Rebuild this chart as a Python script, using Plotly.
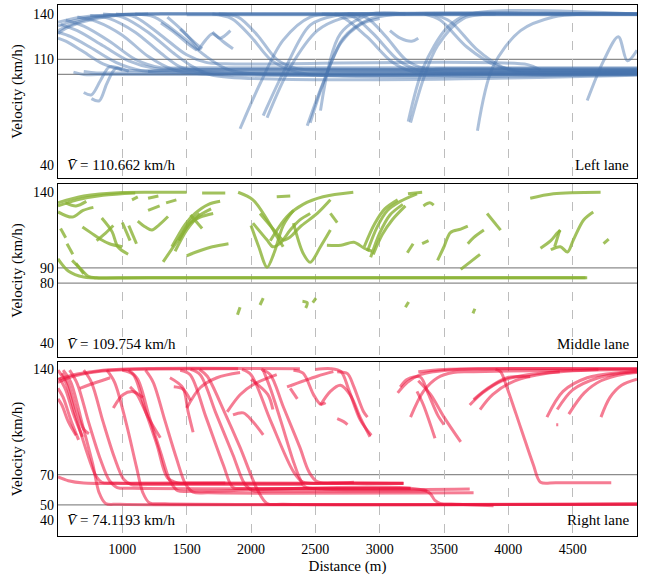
import plotly.graph_objects as go

# ---------------- data: distance (m) / velocity (km/h) keypoints ----------------
# Left lane
left_cruise = [
    ([500, 620, 800, 1050, 1400, 5000], [132, 135.5, 138.5, 140, 140, 140]),
    ([500, 600, 750, 1000, 1300, 5000], [129, 133, 137, 139.5, 140.3, 140.3]),
    ([500, 650, 900, 1200, 5000], [134.5, 137.5, 139.5, 140, 139.7]),
    ([500, 560, 700, 950, 1200], [127, 130.5, 135, 139, 140]),
    ([1500, 2500, 3500, 5000], [139.6, 139.6, 139.6, 139.6]),
    ([620, 700, 900, 5000], [101.5, 100, 100, 100]),
    ([700, 800, 1000, 5000], [102, 101, 101, 101]),
    ([1200, 1400, 5000], [102, 103, 103]),
]
left_decel = [
    ([500, 600, 750, 950, 1150, 1350, 5000], [128, 125, 118, 108, 102.5, 101.5, 101.5]),
    ([500, 560, 680, 850, 1000, 1150, 5000], [124, 122, 116, 107, 103, 102.5, 102.5]),
    ([520, 650, 850, 1050, 1250, 1450, 5000], [133, 129, 119, 109, 104, 103.5, 103.5]),
    ([560, 700, 900, 1100, 1300, 1500, 5000], [136, 132, 122, 110, 104.5, 104.5, 104.5]),
    ([650, 800, 1000, 1200, 1400, 1600, 5000], [138, 135, 126, 112, 103, 100.5, 100.5]),
    ([750, 900, 1100, 1300, 1450, 1600, 5000], [139, 137, 128, 114, 105, 102, 102]),
    ([850, 1000, 1200, 1400, 1550, 1700, 5000], [140, 138, 128, 114, 105, 99.5, 99.5]),
    ([950, 1100, 1300, 1500, 1650, 1800, 4150, 4250], [140, 138, 126, 113, 108, 107, 106.5, 103]),
    ([1100, 1250, 1450, 1650, 1800, 1950, 5000], [140, 138, 126, 112, 104, 101, 101]),
    ([1700, 1850, 2000, 2150, 2300, 2450, 5000], [140, 137, 125, 110, 103, 100, 100]),
    ([1750, 1900, 2050, 2200, 2350, 2500, 5000], [140, 138, 126, 110, 104, 103, 103]),
    ([2550, 2700, 2900, 3100, 3250, 3400, 5000], [140, 138.5, 125, 108, 102, 101, 101]),
    ([2650, 2800, 2950, 3150, 3300, 3450, 5000], [140, 138, 127, 109, 103, 102, 102]),
    ([2750, 2900, 3050, 3200, 3350, 3500, 5000], [140, 137.5, 125, 110, 104, 104, 104]),
    ([3350, 3470, 3680, 3900, 4050, 4200, 5000], [140, 136, 118, 106, 103, 102.5, 102.5]),
    ([3420, 3550, 3750, 3950, 4100, 4250, 5000], [140, 135, 117, 105, 101, 100, 100]),
]
left_accel = [
    ([1915, 2071, 2250, 2460, 2700, 5000], [64, 94, 122.7, 138, 140, 140]),
    ([2095, 2250, 2460, 2670, 2900, 5000], [72.7, 101, 132.7, 139.3, 140, 140]),
    ([2125, 2305, 2515, 2700, 2850], [71.3, 104.7, 129, 137, 138.5]),
    ([2437, 2562, 2717, 2905, 3100, 5000], [66, 94.7, 124, 136, 139.5, 140]),
    ([2460, 2570, 2700, 2850, 3000], [68, 96, 121, 133, 137]),
    ([2540, 2695, 2930, 3200], [76, 127, 140, 140]),
    ([3222, 3340, 3525, 3700, 5000], [68.7, 104.7, 131, 140, 140]),
    ([3240, 3340, 3450, 3650, 3900], [68, 97, 119, 137, 140]),
    ([3760, 3880, 4095, 4350, 4600, 5000], [62.7, 105, 129, 138, 140, 140]),
    ([4613, 4740, 4855, 4925, 5000], [82.7, 109, 125, 109, 116]),
    ([700, 760, 830, 900, 1000], [88, 86.5, 96, 105, 103]),
    ([760, 820, 880, 950, 1050], [84, 82.5, 94, 104, 102]),
]
left_misc = [
    ([1590, 1640, 1700, 1760, 1840], [116, 122, 127, 124, 129]),
    ([1450, 1550, 1620], [130, 122, 117]),
    ([3080, 3160, 3250, 3300], [129, 124, 122, 124]),
    ([1700, 1780, 1860], [128, 122, 117]),
    ([1300, 1400, 1500, 1580], [134, 128, 121, 116]),
    ([1350, 1480, 1600], [138, 128, 116]),
]

# Middle lane
middle_main = [
    ([500, 700, 1000, 1300, 1500], [133, 137.5, 139.8, 140, 140]),
    ([500, 650, 850, 1100], [131, 135, 138, 139.5]),
    ([500, 580, 700, 1000, 4600], [96, 88, 84, 83.5, 83.5]),
    ([610, 680, 735, 800, 1200, 4613], [95, 89, 84.5, 83.5, 83.5, 83.5]),
]
middle_pieces = [
    ([500, 610, 695, 775], [127, 123.6, 128, 130]),
    ([560, 640, 720], [133, 131, 134]),
    ([520, 560], [116, 110]),
    ([570, 615], [106, 99]),
    ([640, 700], [93, 86]),
    ([690, 760, 830, 900, 1000], [117, 113, 109, 106, 104]),
    ([840, 920, 965, 1045], [123, 114, 104, 99]),
    ([800, 870, 930], [108, 113, 118]),
    ([1000, 1060], [120, 108]),
    ([1050, 1110], [118, 106]),
    ([1120, 1180, 1230, 1280, 1355], [121, 117, 115, 118, 124]),
    ([1075, 1120], [135, 137]),
    ([1200, 1280], [136, 137.5]),
    ([1200, 1290], [128, 131]),
    ([1340, 1420], [133, 135]),
    ([1317, 1450, 1527, 1605, 1706], [94, 110.5, 119.6, 123.6, 126]),
    ([1385, 1490, 1565, 1670, 1760], [104, 119, 126, 132, 134]),
    ([1410, 1500, 1590, 1690], [101, 115, 124, 129]),
    ([1440, 1520, 1600], [108, 120, 126]),
    ([1530, 1580, 1620], [125, 120, 116]),
    ([1500, 1590, 1700, 1825], [98, 101, 104, 106]),
    ([1620, 1800], [139.5, 139.5]),
    ([1900, 2015, 2125, 2200, 2250], [140, 135, 122, 111, 104]),
    ([2015, 2125, 2170, 2227, 2305, 2380, 2460], [119.6, 108.4, 104, 106.4, 115, 121.7, 126]),
    ([2070, 2200, 2250, 2305, 2380, 2515, 2617], [126, 113, 108.4, 110.5, 117, 126, 135]),
    ([2000, 2060, 2125, 2180, 2250, 2330], [118, 104, 90.5, 100, 118, 128]),
    ([2330, 2405, 2460, 2540, 2617], [119.6, 99.7, 93.7, 104, 115]),
    ([2150, 2280, 2405, 2560, 2795], [108, 124, 132, 137, 140]),
    ([2200, 2305], [137, 137.5]),
    ([2617, 2670], [126, 120]),
    ([2590, 2700, 2800, 2880, 2940], [105, 105, 107, 103, 101]),
    ([2905, 2980, 3060, 3160, 3290], [101, 117, 128, 134, 139]),
    ([2930, 3000, 3080, 3180], [97, 113, 125, 132]),
    ([2950, 3020, 3100, 3200], [99, 112, 122, 131]),
    ([2880, 2960, 3040, 3140], [104, 119, 129, 135]),
    ([3220, 3330], [139, 140]),
    ([3340, 3390, 3420], [131, 133, 131.5]),
    ([3215, 3260], [100, 106]),
    ([3330, 3380], [106, 108]),
    ([3450, 3500, 3550, 3630, 3685], [95, 104, 113.4, 115.6, 117.6]),
    ([3630, 3705, 3780], [89, 94, 99]),
    ([3685, 3730, 3810], [106, 110, 115]),
    ([3835, 3940], [126, 115]),
    ([4170, 4350, 4717], [136, 139, 140]),
    ([4250, 4330, 4380, 4405], [103, 108, 113, 115]),
    ([4330, 4405, 4460, 4505, 4585, 4660], [102, 104, 100.5, 108.4, 121.7, 127]),
    ([4360, 4400], [104, 115]),
    ([4740, 4780], [106, 109]),
    ([1895, 1915], [59, 64]),
    ([2070, 2095], [65.5, 70]),
    ([2400, 2437, 2425], [68, 67, 63.5]),
    ([2480, 2505], [67, 70]),
    ([3200, 3225], [64, 67.5]),
    ([3725, 3740], [60, 63]),
]

# Right lane
right_top = [
    ([500, 650, 850, 1100, 2380], [133, 136.5, 139, 140, 140]),
    ([500, 600, 800, 1050, 1900], [131, 134.5, 138, 139.5, 140]),
    ([3300, 3500, 3800, 4200, 5000], [138, 139.5, 140, 140, 140]),
    ([500, 580, 700, 1500, 3185], [68.5, 66, 64.5, 64.5, 64.2]),
]
right_jam = [
    ([500, 560, 640, 720, 790, 840, 950, 1800], [139, 131, 108, 86, 70, 65, 64.5, 64.5]),
    ([540, 600, 690, 770, 820, 870, 980, 5000], [139, 131, 103, 77, 58, 51, 50.5, 50.5]),
    ([590, 650, 740, 830, 900, 960, 1080, 3240], [139, 130, 104, 80, 66, 61.5, 61, 61]),
    ([700, 760, 850, 940, 1010, 1070, 1200, 2400], [139, 131, 105, 81, 67, 63.5, 63.5, 63.5]),
    ([880, 940, 1030, 1110, 1160, 1210, 1330, 5000], [139, 131, 104, 75, 58, 51.5, 50.8, 50.8]),
    ([1000, 1085, 1180, 1270, 1350, 1430, 1550, 3185], [139, 136, 112, 89.6, 68, 64.6, 64.3, 64.3]),
    ([1050, 1120, 1210, 1300, 1370, 1430, 1550, 3370, 3430, 3470, 3600, 3885],
     [139, 133, 108, 84, 66, 59.5, 59, 59, 53, 51, 50.5, 49.5]),
    ([1180, 1240, 1330, 1420, 1490, 1550, 1670, 3730], [139, 131, 106, 81, 64, 58.5, 58, 58]),
    ([1450, 1527, 1650, 1785, 1860, 1970, 2100, 3240], [139, 136, 108, 76.4, 61.6, 61, 60.8, 60.8]),
    ([1530, 1605, 1730, 1860, 1950, 2015, 2150, 3370], [139.5, 136, 110, 83, 64, 59.5, 59.2, 59.2]),
    ([1600, 1660, 1790, 1915, 2050, 2125, 2250, 5000], [139.5, 135, 112, 88, 60, 51, 50.5, 50.5]),
    ([1930, 2000, 2150, 2330, 2405, 2640, 3185], [139.5, 136, 106, 72, 65, 64.6, 64.3]),
    ([2080, 2150, 2250, 2380, 2450, 2515, 2800], [139.5, 136, 115, 88, 72, 65.5, 65]),
    ([2095, 2150, 2230, 2330, 2380, 2420, 2550, 3700], [139, 127, 106, 78.6, 67.4, 62, 60.5, 60.5]),
    ([3900, 3940, 3990, 4100, 4195, 4250, 4370, 4800], [139.5, 138, 127.4, 100, 76.4, 65, 64.7, 64.7]),
]
right_short = [
    ([500, 540, 600, 660], [127, 121, 106, 93]),
    ([510, 560, 620, 690], [134, 126, 110, 95]),
    ([500, 530, 580, 640], [120, 116, 105, 96]),
    ([530, 580, 640, 700, 740], [137, 130, 113, 100, 97]),
    ([670, 800, 905], [127, 131, 134]),
    ([930, 1005, 1085, 1160], [114, 122.8, 124.8, 120.8]),
    ([1060, 1115, 1200, 1295], [128, 122.8, 108, 94.4]),
    ([1370, 1470, 1510, 1550], [134, 127.4, 112, 98]),
    ([1400, 1470, 1530], [128, 126.5, 119]),
    ([1500, 1605, 1735, 1915], [114, 127.4, 134, 137.4]),
    ([1815, 1915, 2015, 2200], [111.5, 122.8, 129.4, 136]),
    ([1860, 1940, 2015, 2095], [109.5, 110.8, 105, 96.3]),
    ([2000, 2130, 2170], [133, 123, 113]),
    ([2280, 2515, 2640], [128, 135, 138]),
    ([2330, 2405, 2485, 2540, 2580], [139, 137, 123, 116.5, 117.5]),
    ([2305, 2360], [127, 120]),
    ([2670, 2750, 2795, 2875, 2905], [138, 136.7, 129, 111.5, 108]),
    ([2540, 2617, 2695, 2772, 2850, 2925], [116, 125, 129, 122.5, 107.5, 95]),
    ([2670, 2720, 2750], [107, 105, 103]),
    ([2500, 2620, 2700, 2760, 2850, 2935], [139.5, 140, 138, 126, 106, 96]),
    ([3140, 3215, 3315, 3420, 3600, 5000], [124, 131, 136, 138, 139.5, 140]),
    ([3160, 3215, 3315, 3380, 3450, 3500], [128, 133, 134.5, 123, 109.5, 103]),
    ([3240, 3340, 3450, 3570, 3705, 5000], [108, 125, 134, 137.4, 138, 139.5]),
    ([3290, 3340, 3430], [125, 116, 94]),
    ([3300, 3395, 3500, 3630], [132, 123, 108, 91.6]),
    ([3730, 3840, 3990, 4170], [119.5, 127, 134, 134.7]),
    ([3700, 3800, 3950, 4150, 4400], [116, 124, 132, 136, 138]),
    ([3780, 3880, 4050, 4300, 4700], [113, 123, 132, 137, 139.5]),
    ([4300, 4425, 4613, 4870, 5000], [108, 125, 134, 137.4, 138]),
    ([4380, 4500, 4700, 5000], [113, 126, 134, 138.5]),
    ([4470, 4590, 4720, 4900, 5000], [110, 124, 132, 136.5, 137.5]),
    ([4720, 4790, 4880, 5000], [108, 121, 129, 133]),
    ([4372, 4388], [103, 103]),
]

lane_names = ["Left lane", "Middle lane", "Right lane"]
mean_speeds = ["110.662", "109.754", "74.1193"]
ref_lines = [[110, 100], [90, 80], [70, 50]]
y_ticks = [[40, 110, 140], [40, 80, 90, 140], [40, 50, 70, 140]]
x_ticks = [1000, 1500, 2000, 2500, 3000, 3500, 4000, 4500]

# ---------------- figure ----------------
FONT = "'Liberation Serif', 'Times New Roman', 'DejaVu Serif', serif"
colors = ["rgba(72,115,172,0.45)", "rgba(138,178,52,0.8)", "rgba(236,16,58,0.55)"]
groups = [left_cruise + left_decel + left_accel + left_misc,
          middle_main + middle_pieces,
          right_top + right_jam + right_short]

fig = go.Figure()
for i, tracks in enumerate(groups):
    for d, v in tracks:
        fig.add_trace(go.Scatter(
            x=d, y=v, mode="lines", xaxis="x%d" % (i + 1) if i else "x",
            yaxis="y%d" % (i + 1) if i else "y",
            line=dict(color=colors[i], width=3, shape="spline", smoothing=0.9),
            showlegend=False, hoverinfo="skip"))

domains = [[0.674, 1.0], [0.337, 0.663], [0.0, 0.328]]
yranges = [[31.3, 146], [31.1, 145.5], [29.5, 144.5]]
frame = dict(showline=True, mirror=True, linecolor="black", linewidth=1.2,
             zeroline=False, ticks="", automargin=False)
layout = dict(width=646, height=576, plot_bgcolor="white", paper_bgcolor="white",
              margin=dict(l=58, r=9, t=5, b=40),
              font=dict(family=FONT, size=14, color="black"))
for i in range(3):
    xs = "xaxis" if i == 0 else "xaxis%d" % (i + 1)
    ys = "yaxis" if i == 0 else "yaxis%d" % (i + 1)
    yid = "y" if i == 0 else "y%d" % (i + 1)
    xid = "x" if i == 0 else "x%d" % (i + 1)
    layout[xs] = dict(domain=[0, 1], anchor=yid, range=[500, 5000], tickvals=x_ticks,
                      showticklabels=(i == 2), showgrid=True, gridcolor="#bdbdbd",
                      griddash="dash", gridwidth=1, tickfont=dict(size=14), **frame)
    if i:
        layout[xs]["matches"] = "x"
    layout[ys] = dict(domain=domains[i], anchor=xid, range=yranges[i], tickvals=y_ticks[i],
                      showgrid=False, tickfont=dict(size=14),
                      title=dict(text="Velocity (km/h)", font=dict(size=15), standoff=6),
                      **frame)
layout["xaxis3"]["title"] = dict(text="Distance (m)", font=dict(size=15), standoff=4)
fig.update_layout(**layout)

ann_y = [0.075, 0.077, 0.092]
for i in range(3):
    xid = "x" if i == 0 else "x%d" % (i + 1)
    yid = "y" if i == 0 else "y%d" % (i + 1)
    for val in ref_lines[i]:
        fig.add_shape(type="line", xref=xid + " domain", yref=yid, x0=0, x1=1, y0=val, y1=val,
                      line=dict(color="#8c8c8c", width=1.2), layer="below")
    fig.add_annotation(xref=xid + " domain", yref=yid + " domain", x=0.012, y=ann_y[i],
                       xanchor="left", yanchor="middle", showarrow=False,
                       text="<i>V\u0304</i> = %s km/h" % mean_speeds[i], font=dict(size=15))
    fig.add_annotation(xref=xid + " domain", yref=yid + " domain", x=0.99, y=ann_y[i],
                       xanchor="right", yanchor="middle", showarrow=False,
                       text=lane_names[i], font=dict(size=15))

fig.write_html("out.html", config={"displayModeBar": False},
               post_script="document.body.style.margin='0px';document.body.style.padding='0px';")
